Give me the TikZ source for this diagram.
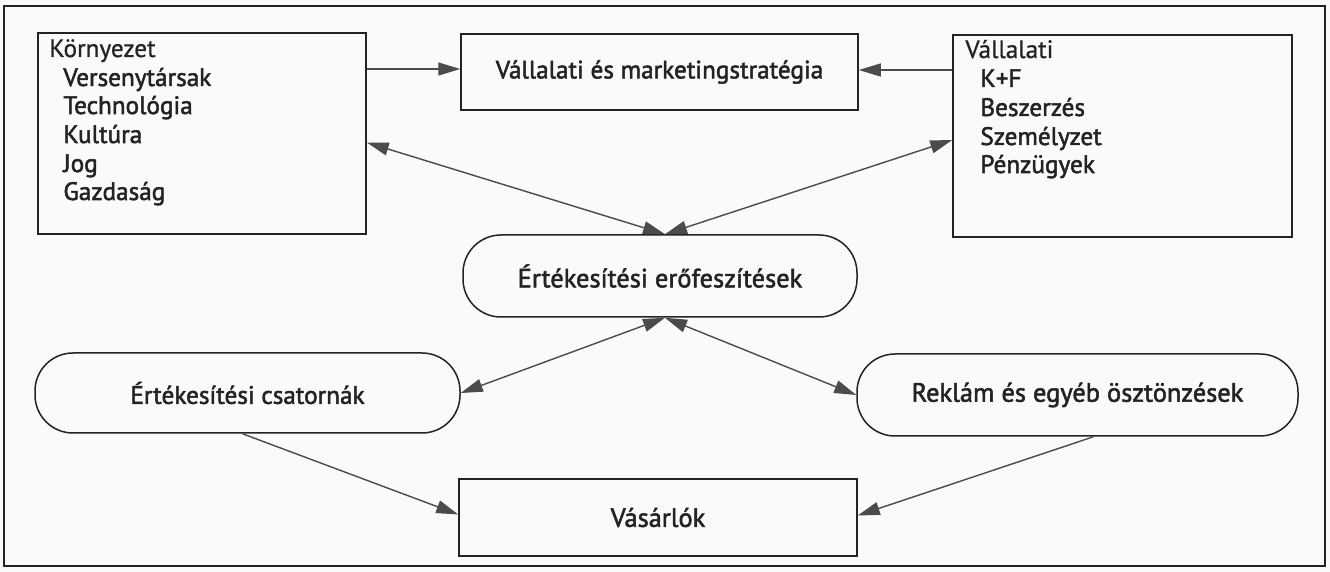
\documentclass[tikz,border=0pt]{standalone}
\usepackage{fontspec}
\setmainfont{PT Sans}[FakeBold=2]
\newfontfamily\headfont{PT Sans}[FakeBold=0.8]
\usetikzlibrary{arrows.meta}
\definecolor{paper}{RGB}{250,250,248}
\definecolor{ink}{RGB}{35,35,35}
\definecolor{lineg}{RGB}{75,75,75}
\begin{document}
\begin{tikzpicture}[x=0.5pt,y=-0.5pt,
  box/.style={draw=ink, line width=0.75pt, inner sep=0pt, font=\fontsize{13.2}{15}\selectfont, text=ink},
  pill/.style={box, rounded corners=19pt},
  itemtext/.style={anchor=base west, inner sep=0pt, font=\fontsize{12.6}{14}\selectfont, text=ink},
  headtext/.style={itemtext, font=\headfont\fontsize{12.6}{14}\selectfont},
  arr/.style={draw=lineg, line width=0.7pt, -{Triangle[length=11pt,width=6.5pt]}},
  arrb/.style={draw=lineg, line width=0.7pt, {Triangle[length=11pt,width=6.5pt]}-{Triangle[length=11pt,width=6.5pt]}}
]
\path[fill=paper] (0,0) rectangle (1330,572);
\draw[ink, line width=0.8pt] (4,6) rectangle (1325,566);

% boxes
\node[box, minimum width=164pt, minimum height=100.5pt] (env) at (202,133.5) {};
\node[box, minimum width=198.5pt, minimum height=38pt, font=\fontsize{12.6}{15}\selectfont] (strat) at (659.5,72) {Vállalati és marketingstratégia};
\node[box, minimum width=169.5pt, minimum height=101pt] (comp) at (1122.5,136) {};
\node[pill, minimum width=197pt, minimum height=41pt] (effort) at (660,276) {Értékesítési erőfeszítések};
\node[pill, minimum width=212.5pt, minimum height=40pt, font=\fontsize{12.6}{15}\selectfont] (chan) at (247.5,393) {Értékesítési csatornák};
\node[pill, minimum width=220.5pt, minimum height=41pt] (adv) at (1077.5,395) {Reklám és egyéb ösztönzések};
\node[box, minimum width=199pt, minimum height=38.5pt] (buy) at (658,517.5) {Vásárlók};

% list texts
\node[headtext] (envh) at (49,57) {Környezet};
\node[itemtext] (env1) at (63,86) {Versenytársak};
\node[itemtext] (env2) at (63,114) {Technológia};
\node[itemtext] (env3) at (63,143) {Kultúra};
\node[itemtext] (env4) at (63,172) {Jog};
\node[itemtext] (env5) at (63,200) {Gazdaság};

\node[headtext] (comph) at (965,58) {Vállalati};
\node[itemtext] (comp1) at (980,87) {K+F};
\node[itemtext] (comp2) at (980,116) {Beszerzés};
\node[itemtext] (comp3) at (980,145) {Személyzet};
\node[itemtext] (comp4) at (980,173) {Pénzügyek};

% connectors
\draw[arr] ([yshift=1.5pt]strat.west -| env.east) -- ([yshift=1.5pt]strat.west);
\draw[arr] ([yshift=1pt]strat.east -| comp.west) -- ([yshift=1pt]strat.east);
\draw[arrb] ([yshift=-4.5pt]env.east) -- ([xshift=2.5pt]effort.north);
\draw[arrb] ([yshift=-2pt]comp.west) -- ([xshift=2.5pt]effort.north);
\draw[arrb] ([xshift=2.5pt]effort.south) -- (chan.east);
\draw[arrb] ([xshift=2.5pt]effort.south) -- (adv.west);
\draw[arr] ([xshift=-2.5pt]chan.south) -- ([yshift=1.5pt]buy.west);
\draw[arr] ([xshift=8pt]adv.south) -- ([yshift=1pt]buy.east);
\end{tikzpicture}
\end{document}
